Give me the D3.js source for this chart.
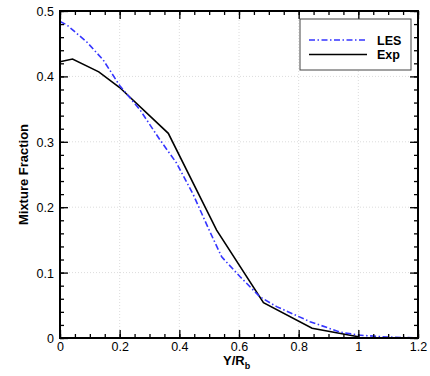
<!DOCTYPE html>
<html><head><meta charset="utf-8">
<script src="https://cdn.jsdelivr.net/npm/d3@7"></script>
<style>body{margin:0;background:#fff}svg{display:block}text{font-family:"Liberation Sans",Arial,sans-serif}</style>
</head><body><svg id="c" width="430" height="376"></svg>
<script>
const lesX = [0, 0.022, 0.089, 0.145, 0.2, 0.268, 0.335, 0.39, 0.447, 0.5, 0.542, 0.603, 0.67, 0.726, 0.838, 0.939, 1.0, 1.095, 1.2];
const lesY = [0.484, 0.479, 0.453, 0.425, 0.386, 0.349, 0.303, 0.268, 0.219, 0.165, 0.124, 0.094, 0.063, 0.048, 0.025, 0.009, 0.0045, 0.0015, 0.0];
const expX = [0, 0.042, 0.13, 0.2, 0.363, 0.525, 0.682, 0.845, 1.0];
const expY = [0.4225, 0.4266, 0.407, 0.383, 0.313, 0.165, 0.054, 0.015, 0.002];
const xTicks = [0, 0.2, 0.4, 0.6, 0.8, 1, 1.2];
const yTicks = [0, 0.1, 0.2, 0.3, 0.4, 0.5];
const seriesNames = ["LES", "Exp"];

const svg = d3.select("#c");
const L = 60, R = 418, T = 11, B = 338;
const x = d3.scaleLinear().domain([0, 1.2]).range([L, R]);
const y = d3.scaleLinear().domain([0, 0.5]).range([B, T]);
const fmt = d => d === 0 ? "0" : d3.format("")(+d.toFixed(1));

// grid
const g = svg.append("g");
g.selectAll(".gx").data(xTicks.slice(1, -1)).join("line")
  .attr("x1", d => x(d)).attr("x2", d => x(d)).attr("y1", T).attr("y2", B)
  .attr("stroke", "#dcdcdc").attr("stroke-width", 1).attr("stroke-dasharray", "1,2");
g.selectAll(".gy").data(yTicks.slice(1, -1)).join("line")
  .attr("y1", d => y(d)).attr("y2", d => y(d)).attr("x1", L).attr("x2", R)
  .attr("stroke", "#dcdcdc").attr("stroke-width", 1).attr("stroke-dasharray", "1,2");

// curves
const line = d3.line().x(d => x(d[0])).y(d => y(d[1]));
svg.append("path").datum(expX.map((v, i) => [v, expY[i]]))
  .attr("d", line).attr("fill", "none").attr("stroke", "#000").attr("stroke-width", 1.6);
svg.append("path").datum(lesX.map((v, i) => [v, lesY[i]]))
  .attr("d", line).attr("fill", "none").attr("stroke", "#3535ff").attr("stroke-width", 1.6)
  .attr("stroke-dasharray", "6,2.5,1.5,2.5");

// axes
const xMinor = d3.range(0, 1.2001, 0.05);
const yMinor = d3.range(0, 0.5001, 0.02);
function axes(axis, tf) {
  const a = svg.append("g").attr("transform", tf).call(axis);
  a.select(".domain").remove();
  a.selectAll("line").attr("stroke", "#000").attr("stroke-width", 1.3);
  return a;
}
axes(d3.axisBottom(x).tickValues(xMinor).tickSize(-4).tickFormat(""), `translate(0,${B})`);
axes(d3.axisTop(x).tickValues(xMinor).tickSize(-4).tickFormat(""), `translate(0,${T})`);
axes(d3.axisLeft(y).tickValues(yMinor).tickSize(-4).tickFormat(""), `translate(${L},0)`);
axes(d3.axisRight(y).tickValues(yMinor).tickSize(-4).tickFormat(""), `translate(${R},0)`);
axes(d3.axisBottom(x).tickValues(xTicks).tickSize(-8).tickPadding(4).tickFormat(fmt), `translate(0,${B})`);
axes(d3.axisTop(x).tickValues(xTicks).tickSize(-8).tickFormat(""), `translate(0,${T})`);
const yl = axes(d3.axisLeft(y).tickValues(yTicks).tickSize(-8).tickPadding(6).tickFormat(fmt), `translate(${L},0)`);
axes(d3.axisRight(y).tickValues(yTicks).tickSize(-8).tickFormat(""), `translate(${R},0)`);
svg.selectAll(".tick text").attr("font-size", 12.5).attr("fill", "#000")
  .style("font-family", '"Liberation Sans",Arial,sans-serif');
yl.selectAll(".tick text").attr("dy", "0.36em");

// frame
svg.append("rect").attr("x", L).attr("y", T).attr("width", R - L).attr("height", B - T)
  .attr("fill", "none").attr("stroke", "#000").attr("stroke-width", 2);

// titles
svg.append("text").attr("transform", `translate(28,${(T + B) / 2}) rotate(-90)`)
  .attr("text-anchor", "middle").attr("font-size", 13).attr("font-weight", "bold").text("Mixture Fraction");
const xt = svg.append("text").attr("x", 223).attr("y", 365).attr("font-size", 13).attr("font-weight", "bold");
xt.append("tspan").text("Y/R");
xt.append("tspan").attr("font-size", 9).attr("dy", 4).text("b");

// legend
const lg = svg.append("g");
lg.append("rect").attr("x", 300).attr("y", 19).attr("width", 111).attr("height", 51)
  .attr("fill", "#fff").attr("stroke", "#444").attr("stroke-width", 1);
const styles = [{c: "#3535ff", d: "6,2.5,1.5,2.5"}, {c: "#000", d: null}];
seriesNames.forEach((n, i) => {
  const yy = 40 + i * 14.5;
  lg.append("line").attr("x1", 309).attr("x2", 367).attr("y1", yy).attr("y2", yy)
    .attr("stroke", styles[i].c).attr("stroke-width", 1.6).attr("stroke-dasharray", styles[i].d);
  lg.append("text").attr("x", 377).attr("y", yy + 4.5).attr("font-size", 12.5).attr("font-weight", "bold").text(n);
});
</script></body></html>
